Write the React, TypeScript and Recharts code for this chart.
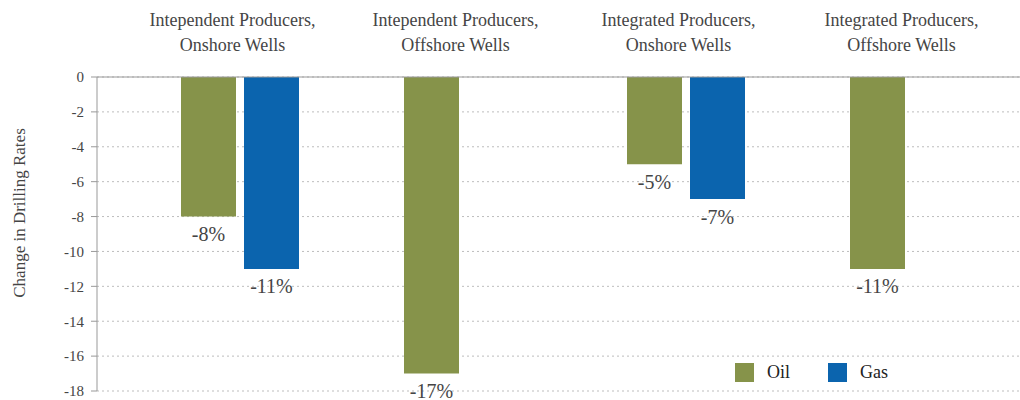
import { BarChart, Bar, XAxis, YAxis, CartesianGrid, ReferenceLine, LabelList } from 'recharts';

const CATEGORIES = [
  ['Intependent Producers,', 'Onshore Wells'],
  ['Intependent Producers,', 'Offshore Wells'],
  ['Integrated Producers,', 'Onshore Wells'],
  ['Integrated Producers,', 'Offshore Wells'],
];
const OIL = [-8, -17, -5, -11];
const GAS: (number | null)[] = [-11, null, -7, null];
const Y_TICKS = [0, -2, -4, -6, -8, -10, -12, -14, -16, -18];

const OIL_COLOR = '#86934a';
const GAS_COLOR = '#0b64ae';
const TEXT = '#454545';
const FONT = 'Liberation Serif, DejaVu Serif, serif';

const data = CATEGORIES.map((c, i) => ({ name: c.join(' '), idx: i, oil: OIL[i], gas: GAS[i] }));

function CategoryTick(props: any) {
  const { x, payload } = props;
  const lines = CATEGORIES[payload.index] ?? [];
  return (
    <g>
      {lines.map((l, i) => (
        <text key={i} x={x - 7} y={26 + i * 25} textAnchor="middle" fill={TEXT} style={{ fontFamily: FONT, fontSize: 18 }}>
          {l}
        </text>
      ))}
    </g>
  );
}

function ValueLabel(props: any) {
  const { x, y, width, height, value } = props;
  if (value == null) return null;
  const bottom = Math.max(y, y + height);
  return (
    <text x={x + width / 2} y={bottom + 20} textAnchor="middle" dominantBaseline="middle" fill={TEXT} style={{ fontFamily: FONT, fontSize: 20 }}>
      {`${value}%`}
    </text>
  );
}

function YTitle() {
  const cy = 213;
  return (
    <text x={21} y={cy} transform={`rotate(-90 21 ${cy})`} textAnchor="middle" dominantBaseline="middle" fill={TEXT} style={{ fontFamily: FONT, fontSize: 17 }}>
      Change in Drilling Rates
    </text>
  );
}

function LegendBox() {
  const items = [
    { label: 'Oil', color: OIL_COLOR },
    { label: 'Gas', color: GAS_COLOR },
  ];
  return (
    <div style={{ display: 'flex', alignItems: 'center', fontFamily: FONT, fontSize: 18, color: '#222' }}>
      {items.map((it) => (
        <div key={it.label} style={{ display: 'flex', alignItems: 'center', marginRight: 38 }}>
          <span style={{ width: 19, height: 19, background: it.color, display: 'inline-block', marginRight: 13 }} />
          <span>{it.label}</span>
        </div>
      ))}
    </div>
  );
}

export default function App() {
  return (
    <div style={{ position: 'absolute', left: 0, top: 0, width: 1020, height: 400, background: '#fff', fontFamily: FONT }}>
      <BarChart width={1020} height={400} data={data} margin={{ top: 17, right: 0, bottom: 9, left: 0 }} barSize={55} barGap={8}>
        <CartesianGrid vertical={false} stroke="#bdbdbd" strokeDasharray="2 3" />
        <XAxis dataKey="name" orientation="top" height={60} axisLine={false} tickLine={false} tick={<CategoryTick />} padding={{ left: 31, right: 0 }} interval={0} />
        <YAxis
          width={97}
          domain={[-18, 0]}
          ticks={Y_TICKS}
          interval={0}
          axisLine={{ stroke: '#999' }}
          tickLine={{ stroke: '#999' }}
          tickSize={6}
          tickMargin={7}
          tick={{ fill: TEXT, style: { fontFamily: FONT, fontSize: 15 } }}
          label={<YTitle />}
        />
        <ReferenceLine y={0} stroke="#999" />
        <Bar dataKey="oil" name="Oil" fill={OIL_COLOR} isAnimationActive={false}>
          <LabelList dataKey="oil" content={<ValueLabel />} />
        </Bar>
        <Bar dataKey="gas" name="Gas" fill={GAS_COLOR} isAnimationActive={false}>
          <LabelList dataKey="gas" content={<ValueLabel />} />
        </Bar>
      </BarChart>
      <div style={{ position: 'absolute', left: 735, top: 362 }}>
        <LegendBox />
      </div>
    </div>
  );
}
